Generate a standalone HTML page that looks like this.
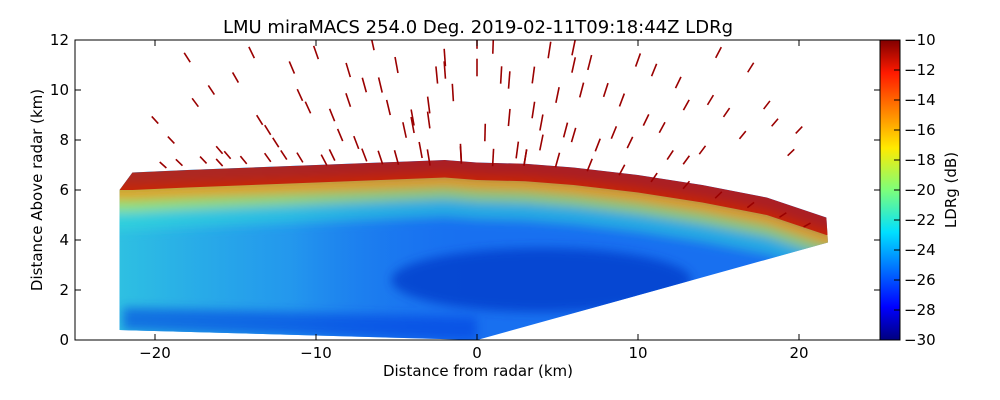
<!DOCTYPE html>
<html><head><meta charset="utf-8"><style>
html,body{margin:0;padding:0;background:#fff;}
svg{display:block;font-family:"DejaVu Sans","Liberation Sans",sans-serif;}
</style></head><body>
<svg id="chart" width="1000" height="400" viewBox="0 0 1000 400">
<defs>
<linearGradient id="jet" x1="0" y1="1" x2="0" y2="0">
<stop offset="0" stop-color="#00007f"/><stop offset="0.11" stop-color="#0000ff"/>
<stop offset="0.36" stop-color="#00e0ff"/><stop offset="0.5" stop-color="#7dff7a"/>
<stop offset="0.64" stop-color="#ffea00"/><stop offset="0.89" stop-color="#ff1a00"/>
<stop offset="1" stop-color="#800000"/>
</linearGradient>
<linearGradient id="lr" x1="0" y1="0" x2="1" y2="0">
<stop offset="0" stop-color="#30c8e0" stop-opacity="0.95"/>
<stop offset="0.25" stop-color="#28a8ec" stop-opacity="0.7"/>
<stop offset="0.5" stop-color="#1870f0" stop-opacity="0"/>
</linearGradient>
<clipPath id="plotclip"><rect x="75" y="40" width="805" height="300"/></clipPath>
<clipPath id="wedgeclip"><polygon id="wedgeclip-poly" points=""/></clipPath>
<filter id="soft" x="-20%" y="-20%" width="140%" height="140%"><feGaussianBlur stdDeviation="5"/></filter>
</defs>
<text x="478" y="33" font-size="18" text-anchor="middle">LMU miraMACS 254.0 Deg. 2019-02-11T09:18:44Z  LDRg</text>
<g id="plot" clip-path="url(#plotclip)"></g>
<rect x="75" y="40" width="805" height="300" fill="none" stroke="#000" stroke-width="1"/>
<g id="axes"></g>
<rect x="880" y="40" width="20" height="300" fill="url(#jet)" stroke="#000"/>
<g id="cbticks"></g>
<text x="956" y="190" font-size="15" text-anchor="middle" transform="rotate(-90 956 190)">LDRg (dB)</text>
<text x="478" y="376" font-size="15" text-anchor="middle">Distance from radar (km)</text>
<text x="42" y="190" font-size="15" text-anchor="middle" transform="rotate(-90 42 190)">Distance Above radar  (km)</text>
</svg>
<script>
const xTicks=[-20,-10,0,10,20];
const yTicks=[0,2,4,6,8,10,12];
const cbTicks=[-30,-28,-26,-24,-22,-20,-18,-16,-14,-12,-10];
const topX=[-21.4,-18,-14,-10,-6,-2,0,3,6,10,14,18,21.7];
const topH=[6.4,6.5,6.6,6.7,6.8,6.9,6.8,6.75,6.6,6.3,5.9,5.4,4.6];
const redDepth=[-0.3,0.4];
const bandDepth=[0.2,0.8,1.3,2.0];
const bandColor=["#ffa000","#c8f040","#30e0d8"];
const dashX=[-19,-17.5,-16,-15,-13.5,-12,-11,-10,-8.5,-7,-6,-5,-4,-3,-2,-1,0.5,1.5,2.5,3.5,4.5,5.5,6.5,7.5,9,10,11.5,12.5,14,15.5,17,18.5,19.5,-18,-16.5,-14,-12.5,-9,-7.5,-5.5,-3.5,-1.5,1,3,5,7,8.5,11,13,15,16.5,-15.5,-11.5,-8,-4.5,-2.5,2,4,6,9.5,12,14.5,-13,-6.5,0,6,13,-10.5,-3,3.5,10.5,18,20,-20,-17,-9.5,-19.5,-18.5,-16,-14.5,-13,-11,-9,-7,-5,-3,-1,1,3,5,7,9,11,13,15,17,19,20.5,-6,-2,2,6,-4,4,0,-8,8];
const dashY=[8,9.5,7.6,10.5,8.8,7.4,9.8,11.5,8.2,10.2,7.3,11,8.6,9.4,10.8,7.5,8.3,10.6,7.6,9.2,11.6,8.4,10,7.8,9.6,11.2,8.5,10.3,7.6,9.1,10.9,8.7,7.5,11.3,10,11.5,7.9,9,7.9,9.3,7.6,9.9,11.8,7.3,9.8,11.1,8.3,10.8,9.4,11.5,8.2,7.4,10.9,9.6,8.4,10.6,8.9,7.9,11.7,7.9,7.4,9.6,8.4,11.9,10.9,8.2,7.2,9.3,8.8,10.6,8.8,9.4,8.4,8.8,7.2,7.2,7.0,7.1,7.1,7.2,7.3,7.3,7.4,7.4,7.3,7.3,7.4,7.3,7.3,7.2,7.0,6.8,6.5,6.2,5.8,5.4,5.0,4.6,10.2,11.3,10.4,11.0,8.9,8.7,12.0,10.8,10.0];
const NS="http://www.w3.org/2000/svg";
const X=v=>477+v*16.1, Y=v=>340-v*25;
const C=v=>340-(v+30)*15;
function mk(tag,attrs,parent){const e=document.createElementNS(NS,tag);for(const k in attrs)e.setAttribute(k,attrs[k]);parent.appendChild(e);return e;}
function bandPts(d0,d1){
  const up=topX.map((x,i)=>[x,topH[i]-d0]);
  const dn=topX.map((x,i)=>[x,topH[i]-d1]).reverse();
  const poly=[[-23,up[0][1]],...up,[23,up[up.length-1][1]],[23,dn[0][1]],...dn,[-23,dn[dn.length-1][1]]];
  return poly.map(q=>X(q[0])+','+Y(q[1])).join(' ');
}
const plot=document.getElementById('plot'),axes=document.getElementById('axes'),cbt=document.getElementById('cbticks');
const pts=[[-22.2,0.4],[0,0],[21.8,3.9]];
for(let i=topX.length-1;i>=0;i--)pts.push([topX[i],topH[i]+0.3]);
pts.push([-22.2,6.0]);
document.getElementById('wedgeclip-poly').setAttribute('points',pts.map(p=>X(p[0])+','+Y(p[1])).join(' '));
const wg=mk('g',{'clip-path':'url(#wedgeclip)'},plot);


const base=mk('rect',{x:X(-23),y:Y(8),width:X(23)-X(-23),height:Y(0)-Y(8),fill:'#1870f0'},wg);


const lft=mk('rect',{x:X(-23),y:Y(8),width:X(23)-X(-23),height:Y(0)-Y(8),fill:'url(#lr)'},wg);


const soft=mk('g',{filter:'url(#soft)'},wg);
const dark=mk('ellipse',{cx:X(4),cy:Y(2.4),rx:150,ry:32,fill:'#0838c8',opacity:0.75},soft);


const low=mk('polygon',{points:[[-22,0.4],[0,0],[0,0.9],[-22,1.3]].map(p=>X(p[0])+','+Y(p[1])).join(' '),fill:'#0a40e0',opacity:0.6},soft);


for(let b=bandColor.length-1;b>=0;b--){
  const p=mk('polygon',{points:bandPts(bandDepth[b],bandDepth[b+1]),fill:bandColor[b],opacity:[0.85,0.65,0.5][b]},soft);
  
  
}
const red=mk('polygon',{points:bandPts(redDepth[0],redDepth[1]),fill:'#c41000',opacity:0.85},wg);


for(let i=0;i<dashX.length;i++){
  const x=dashX[i],y=dashY[i],r=Math.hypot(x,y),d=0.22;
  const l=mk('line',{x1:X(x-d*x/r),y1:Y(y-d*y/r*1.6),x2:X(x+d*x/r),y2:Y(y+d*y/r*1.6),stroke:'#9a0000','stroke-width':1.6},plot);
  
  
}
xTicks.forEach(v=>{
  const l=mk('line',{x1:X(v),x2:X(v),y1:340,y2:334,stroke:'#000'},axes);
  
  
  const l2=mk('line',{x1:X(v),x2:X(v),y1:40,y2:46,stroke:'#000'},axes);
  
  
  const t=mk('text',{x:X(v),y:358,'font-size':15,'text-anchor':'middle'},axes);
  t.textContent=(v<0?'\u2212':'')+Math.abs(v);
  
  
});
yTicks.forEach(v=>{
  const l=mk('line',{x1:75,x2:81,y1:Y(v),y2:Y(v),stroke:'#000'},axes);
  
  
  const l2=mk('line',{x1:874,x2:880,y1:Y(v),y2:Y(v),stroke:'#000'},axes);
  
  
  const t=mk('text',{x:69,y:Y(v)+5,'font-size':15,'text-anchor':'end'},axes);
  t.textContent=v;
  
  
});
cbTicks.forEach(v=>{
  const l=mk('line',{x1:894,x2:900,y1:C(v),y2:C(v),stroke:'#000'},cbt);
  
  
  const t=mk('text',{x:904,y:C(v)+5,'font-size':15},cbt);
  t.textContent='\u2212'+Math.abs(v);
  
  
});
</script>
</body></html>
